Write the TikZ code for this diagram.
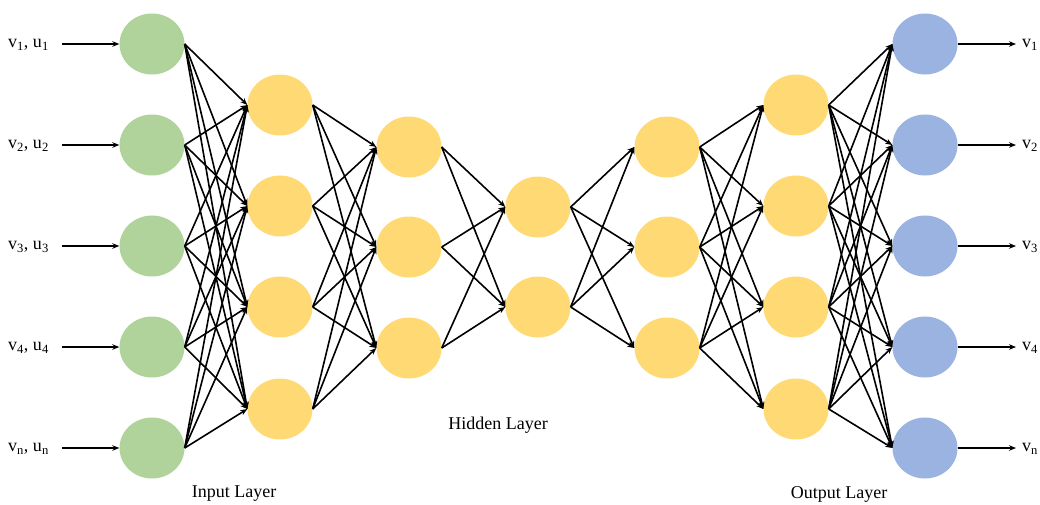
\documentclass[tikz,border=0pt]{standalone}
\usepackage{fontspec}
\setmainfont{Liberation Serif}
\usepackage{tikz}
\usetikzlibrary{arrows,arrows.meta,positioning}
\usetikzlibrary{shapes.geometric}
\definecolor{ingreen}{HTML}{B0D39B}
\definecolor{hidyellow}{HTML}{FFDA74}
\definecolor{outblue}{HTML}{9AB3E0}
\tikzstyle{arrow} = [line width=1.6pt,-{Stealth[length=7pt,width=5.5pt]}]
\tikzstyle{neuron} = [ellipse,draw=none,inner sep=0pt,minimum width=65pt,minimum height=61pt]
\tikzstyle{lbl} = [font=\fontsize{18}{20}\selectfont,inner sep=0pt]

\begin{document}
\begin{tikzpicture}[x=1pt,y=-1pt]
                \useasboundingbox (0,0) rectangle (1040,504);
                % layers
                \foreach \i/\y in {1/44,2/145,3/246,4/347,5/448}{
                    \node[neuron,fill=ingreen] (in\i) at (152,\y) {};
                    \node[neuron,fill=outblue] (out\i) at (925,\y) {};
                }
                \foreach \i/\y in {1/105,2/206,3/307,4/409}{
                    \node[neuron,fill=hidyellow] (ha\i) at (280,\y) {};
                    \node[neuron,fill=hidyellow] (he\i) at (796,\y) {};
                }
                \foreach \i/\y in {1/147,2/247,3/348}{
                    \node[neuron,fill=hidyellow] (hb\i) at (409,\y) {};
                    \node[neuron,fill=hidyellow] (hd\i) at (667,\y) {};
                }
                \foreach \i/\y in {1/207,2/307}{
                    \node[neuron,fill=hidyellow] (hc\i) at (538,\y) {};
                }
                % weights
                \foreach \a in {1,...,5}{
                    \foreach \b in {1,...,4}{
                        \draw[arrow] (in\a.east) -- (ha\b.west);
                        \draw[arrow] (he\b.east) -- (out\a.west);
                    }
                }
                \foreach \a in {1,...,4}{
                    \foreach \b in {1,2,3}{
                        \draw[arrow] (ha\a.east) -- (hb\b.west);
                        \draw[arrow] (hd\b.east) -- (he\a.west);
                    }
                }
                \foreach \a in {1,2,3}{
                    \foreach \b in {1,2}{
                        \draw[arrow] (hb\a.east) -- (hc\b.west);
                        \draw[arrow] (hc\b.east) -- (hd\a.west);
                    }
                }
                % inputs and outputs
                \foreach \i/\y/\s in {1/44/1,2/145/2,3/246/3,4/347/4,5/448/n}{
                    \coordinate (src\i) at (62,\y);
                    \coordinate (dst\i) at (1016,\y);
                    \draw[arrow] (src\i) -- (in\i.west);
                    \draw[arrow] (out\i.east) -- (dst\i);
                    \node[lbl,anchor=west] (inlbl\i) at (8,\y+1) {v\textsubscript{\s}, u\textsubscript{\s}};
                    \node[lbl,anchor=west] (outlbl\i) at (1022,\y+1) {v\textsubscript{\s}};
                }
                \node[lbl] (inname) at (234,494) {Input Layer};
                \node[lbl] (hidname) at (498,425) {Hidden Layer};
                \node[lbl] (outname) at (839,494) {Output Layer};
            \end{tikzpicture}
\end{document}
